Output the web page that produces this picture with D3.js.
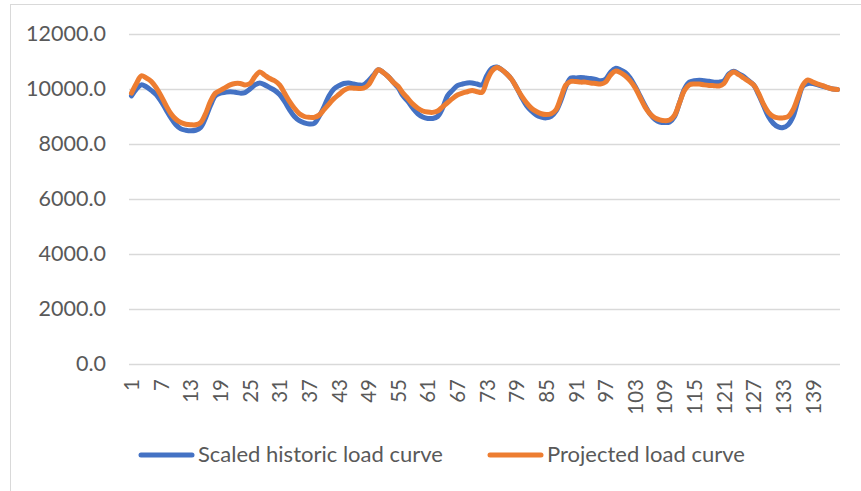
<!DOCTYPE html>
<html>
<head>
<meta charset="utf-8">
<script src="https://cdn.jsdelivr.net/npm/d3@7"></script>
<style>
  html, body { margin: 0; padding: 0; background: #fff; }
  svg { display: block; }
  text { font-family: "Lato", "Open Sans", sans-serif; fill: #595959; }
</style>
</head>
<body>
<svg id="chart" width="861" height="491"></svg>
<script>
// Hourly load over six days (144 points)
const historic = [
  9750, 10000, 10150, 10080, 9950, 9800, 9550, 9250, 8950, 8700, 8550, 8500,
  8480, 8500, 8600, 8950, 9400, 9750, 9850, 9880, 9900, 9880, 9850, 9870,
  10000, 10150, 10220, 10150, 10050, 9950, 9800, 9550, 9250, 9000, 8850, 8770,
  8730, 8750, 9000, 9350, 9750, 10000, 10120, 10200, 10220, 10180, 10150, 10150,
  10300, 10500, 10700, 10600, 10450, 10250, 10050, 9750, 9550, 9300, 9100, 8980,
  8930, 8930, 9000, 9300, 9750, 9950, 10120, 10180, 10220, 10220, 10180, 10150,
  10500, 10750, 10800, 10700, 10550, 10350, 10050, 9700, 9400, 9200, 9050, 8980,
  8950, 9000, 9200, 9600, 10100, 10400, 10400, 10420, 10400, 10380, 10350, 10300,
  10350, 10600, 10750, 10700, 10600, 10400, 10100, 9750, 9400, 9100, 8900, 8800,
  8780, 8800, 9000, 9500, 10000, 10250, 10300, 10320, 10300, 10280, 10250, 10250,
  10300, 10550, 10650, 10550, 10450, 10300, 10150, 9800, 9400, 9000, 8750, 8620,
  8600, 8700, 9000, 9600, 10100, 10200, 10200, 10150, 10100, 10050, 10000, 9980
];
const projected = [
  9850, 10200, 10480, 10400, 10280, 10050, 9750, 9400, 9100, 8900, 8780, 8720,
  8700, 8700, 8780, 9100, 9550, 9850, 9950, 10050, 10150, 10200, 10200, 10150,
  10200, 10450, 10620, 10500, 10380, 10300, 10150, 9850, 9550, 9300, 9100, 9000,
  8970, 8970, 9050, 9250, 9450, 9650, 9800, 9950, 10030, 10030, 10020, 10030,
  10150, 10450, 10700, 10600, 10450, 10250, 10100, 9850, 9650, 9450, 9300, 9200,
  9160, 9150, 9200, 9350, 9500, 9650, 9780, 9850, 9900, 9950, 9900, 9880,
  10300, 10650, 10780, 10700, 10550, 10350, 10050, 9750, 9500, 9300, 9180, 9100,
  9070, 9100, 9250, 9700, 10150, 10280, 10270, 10250, 10250, 10220, 10200, 10180,
  10250, 10500, 10650, 10600, 10480, 10300, 10050, 9700, 9350, 9100, 8950, 8880,
  8850, 8870, 9050, 9500, 9950, 10150, 10180, 10180, 10150, 10130, 10120, 10110,
  10200, 10500, 10620, 10520, 10400, 10280, 10150, 9850, 9450, 9150, 9000, 8950,
  8950, 9000, 9250, 9700, 10150, 10330, 10250, 10180, 10120, 10050, 10000, 9980
];
const categories = d3.range(1, historic.length + 1);
const yTicks = [0, 2000, 4000, 6000, 8000, 10000, 12000];
const seriesNames = ["Scaled historic load curve", "Projected load curve"];
const seriesColors = ["#4472C4", "#ED7D31"];

const svg = d3.select("#chart");

// Outer chart frame
svg.append("rect")
  .attr("x", 10.5).attr("y", 4.5)
  .attr("width", 900).attr("height", 600)
  .attr("fill", "none").attr("stroke", "#d9d9d9").attr("stroke-width", 1);

const plot = { left: 129, right: 840, top: 34, bottom: 364 };

const x = d3.scalePoint()
  .domain(categories)
  .range([plot.left, plot.right])
  .padding(0.5);

const y = d3.scaleLinear()
  .domain([0, 12000])
  .range([plot.bottom, plot.top]);

// Horizontal gridlines
svg.append("g")
  .selectAll("line")
  .data(yTicks)
  .join("line")
  .attr("x1", plot.left).attr("x2", plot.right)
  .attr("y1", d => Math.round(y(d)) + 0.5).attr("y2", d => Math.round(y(d)) + 0.5)
  .attr("stroke", "#d9d9d9").attr("stroke-width", 1.5);

// Y axis labels
const yAxis = d3.axisLeft(y)
  .tickValues(yTicks)
  .tickFormat(d3.format(".1f"))
  .tickSize(0)
  .tickPadding(0);
const yg = svg.append("g").attr("transform", `translate(106,0)`).call(yAxis);
yg.select(".domain").remove();
yg.selectAll("text")
  .attr("font-size", 21.5)
  .attr("font-family", "Lato, sans-serif")
  .attr("fill", "#595959");

// X axis labels (every 6th category, rotated)
const xAxis = d3.axisBottom(x)
  .tickValues(categories.filter(c => (c - 1) % 6 === 0))
  .tickSize(0)
  .tickPadding(0);
const xg = svg.append("g").attr("transform", `translate(0,${plot.bottom})`).call(xAxis);
xg.select(".domain").remove();
xg.selectAll("text")
  .attr("font-size", 20.5)
  .attr("font-family", "Lato, sans-serif")
  .attr("fill", "#595959")
  .attr("transform", "rotate(-90)")
  .attr("text-anchor", "end")
  .attr("x", -15)
  .attr("y", 0)
  .attr("dy", "0.35em");

// Smoothed series lines
const line = d3.line()
  .x((d, i) => x(categories[i]))
  .y(d => y(d))
  .curve(d3.curveCatmullRom.alpha(0.5));

[historic, projected].forEach((series, k) => {
  svg.append("path")
    .datum(series)
    .attr("d", line)
    .attr("fill", "none")
    .attr("stroke", seriesColors[k])
    .attr("stroke-width", 5)
    .attr("stroke-linejoin", "round")
    .attr("stroke-linecap", "round");
});

// Legend
const legendItems = [
  { name: seriesNames[0], color: seriesColors[0], x: 141 },
  { name: seriesNames[1], color: seriesColors[1], x: 490 }
];
const lg = svg.append("g");
legendItems.forEach(item => {
  lg.append("line")
    .attr("x1", item.x).attr("x2", item.x + 51)
    .attr("y1", 455).attr("y2", 455)
    .attr("stroke", item.color).attr("stroke-width", 5)
    .attr("stroke-linecap", "round");
  lg.append("text")
    .attr("x", item.x + 57).attr("y", 462)
    .attr("font-size", 22)
    .text(item.name);
});
</script>
</body>
</html>
